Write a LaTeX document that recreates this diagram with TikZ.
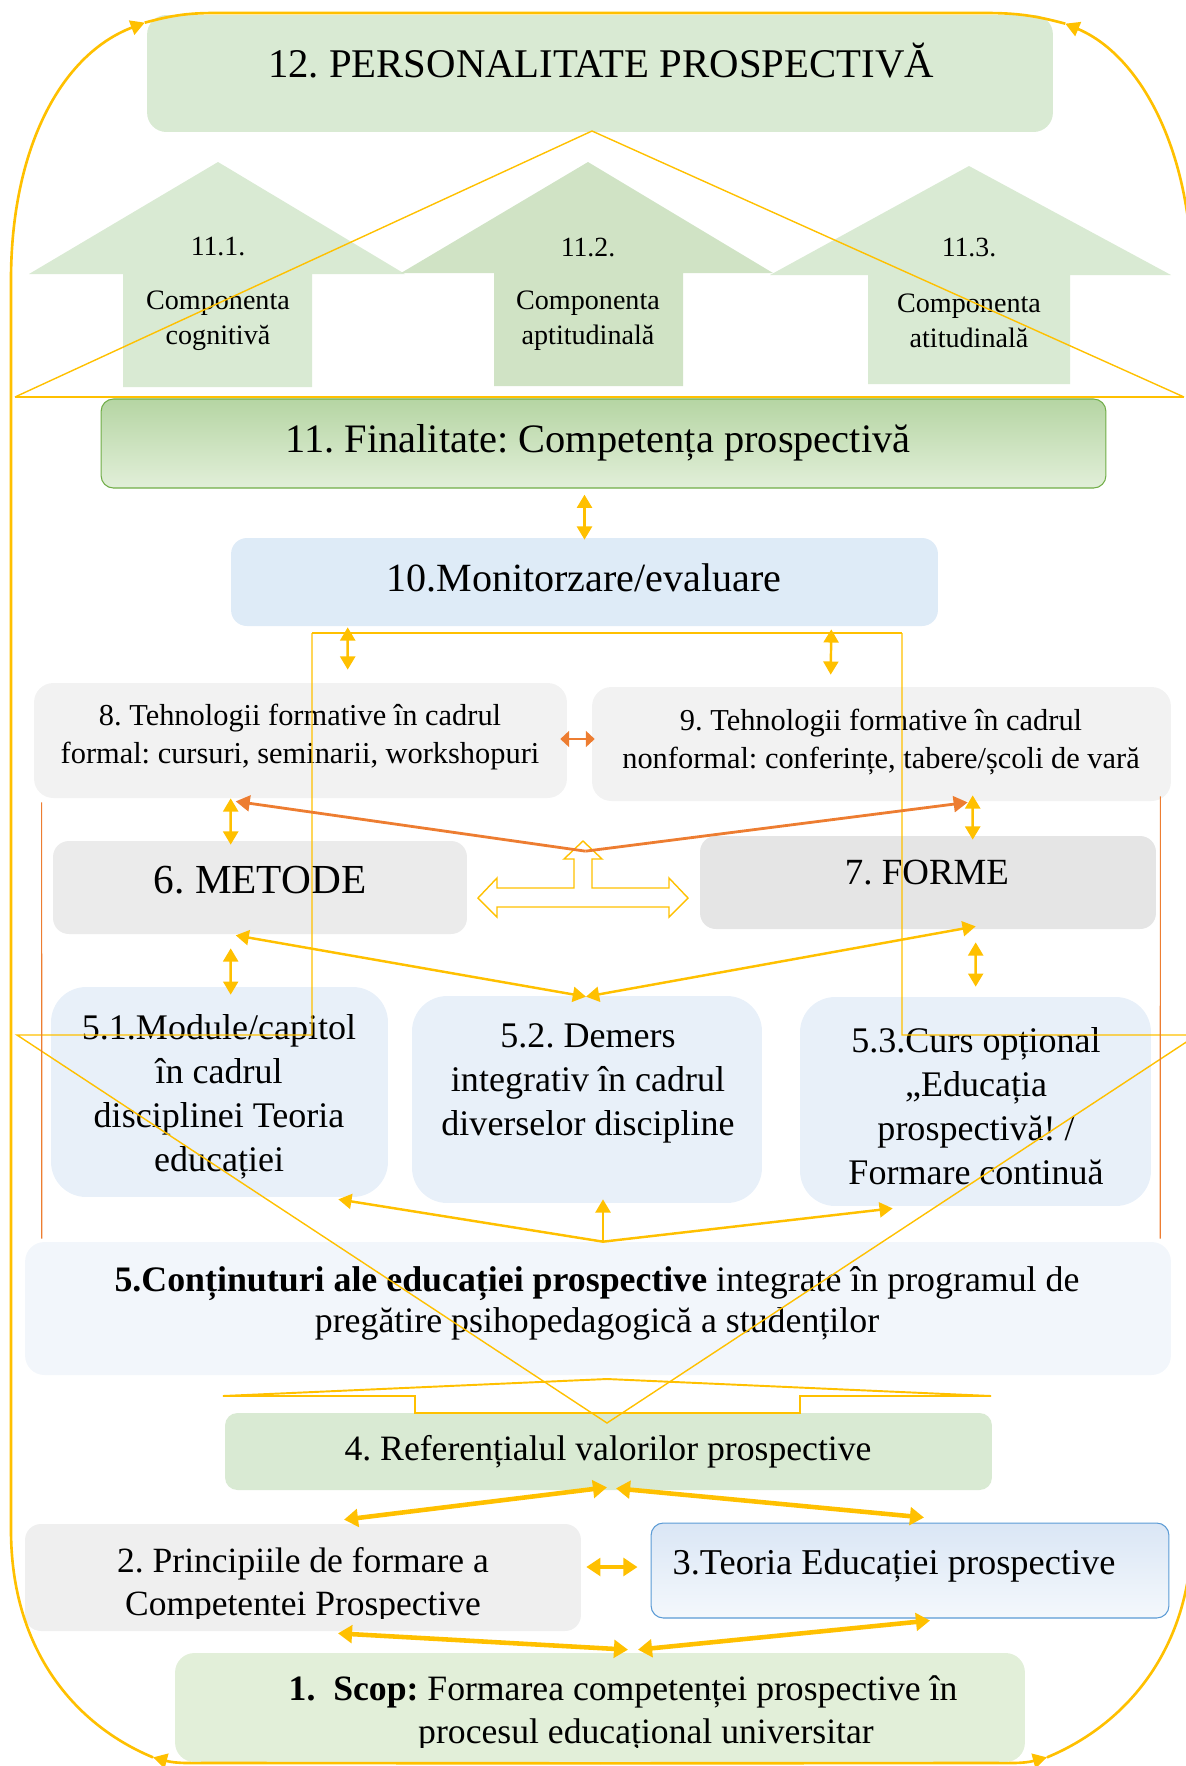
\documentclass[tikz,border=0pt]{standalone}
\usepackage{fontspec}
\setmainfont{Liberation Serif}
\usepackage{tikz}
\usetikzlibrary{arrows.meta, positioning, calc}
\definecolor{FlowGold}{HTML}{FFC000}
\definecolor{FlowOrange}{HTML}{ED7D31}
\definecolor{FlowGreen}{HTML}{D9EAD3}
\definecolor{FlowGreenDark}{HTML}{D0E3C5}
\definecolor{FlowGreenPale}{HTML}{E2EFD9}
\definecolor{FlowGreenTop}{HTML}{B5D5A3}
\definecolor{FlowGreenLine}{HTML}{70AD47}
\definecolor{FlowBlue}{HTML}{DEEBF7}
\definecolor{FlowBlueSoft}{HTML}{E8F0F9}
\definecolor{FlowBlueFaint}{HTML}{F2F6FB}
\definecolor{FlowBlueTop}{HTML}{DAE6F5}
\definecolor{FlowBlueBottom}{HTML}{F4F8FC}
\definecolor{FlowBlueLine}{HTML}{5B9BD5}
\definecolor{FlowGrey}{HTML}{F2F2F2}
\definecolor{FlowGreyMid}{HTML}{EBEBEB}
\definecolor{FlowGreyDark}{HTML}{E5E5E5}
\definecolor{FlowGreyLight}{HTML}{EFEFEF}
\newcommand{\setfs}[2]{\fontsize{#1}{#2}\selectfont}
\frenchspacing
\tikzset{
    % Box styles
    panelbox/.style={
        rectangle,
        rounded corners=#1,
        draw=none,
        inner sep=0pt
    },
    panelbox/.default=10pt,
    boxtext/.style={
        align=center,
        inner sep=0pt
    },
    % Arrow styles
    goldarrow/.style={
        {Triangle[length=7.5pt,width=8.5pt]}-{Triangle[length=7.5pt,width=8.5pt]},
        line width=1.4pt,
        FlowGold
    },
    goldhead/.style={
        -{Triangle[length=7.5pt,width=8.5pt]},
        line width=1.4pt,
        FlowGold
    },
    goldthick/.style={
        {Triangle[length=8pt,width=10pt]}-{Triangle[length=8pt,width=10pt]},
        line width=2.6pt,
        FlowGold
    },
    orangearrow/.style={
        -{Triangle[length=8pt,width=9pt]},
        line width=1.6pt,
        FlowOrange
    },
    % Outline shapes and frame
    goldline/.style={
        draw=FlowGold,
        line width=0.8pt,
        line join=miter
    },
    frameline/.style={
        line width=1.5pt,
        FlowGold
    }
}

\begin{document}
\begin{tikzpicture}[x=0.02cm, y=-0.02cm]
            \useasboundingbox (0,0) rectangle (1186,1766);

            % Top: personality and the three components
            \node[panelbox=11pt, fill=FlowGreen, minimum width=18.12cm, minimum height=2.34cm] (b12) at (600,73.5) {};
            \node[boxtext, font=\setfs{23.2}{28}] (t12) at (601,61) {12. PERSONALITATE PROSPECTIVĂ};

            \fill[FlowGreen] (218,162) -- (405,274) -- (312,274) -- (312,387) -- (123,387) -- (123,274) -- (29,274) -- cycle;
            \fill[FlowGreenDark] (588,162) -- (773,273) -- (683,273) -- (683,386) -- (494,386) -- (494,273) -- (401,273) -- cycle;
            \fill[FlowGreen] (969,166) -- (1171,275) -- (1070,275) -- (1070,384) -- (868,384) -- (868,275) -- (770,275) -- cycle;

            \node[boxtext, font=\setfs{15.8}{20}] (n111) at (218,247) {11.1.};
            \node[boxtext, font=\setfs{16}{20}] (c111) at (218,321) {Componenta\\cognitivă};
            \node[boxtext, font=\setfs{15.8}{20}] (n112) at (588,247) {11.2.};
            \node[boxtext, font=\setfs{16}{20}] (c112) at (588,321) {Componenta\\aptitudinală};
            \node[boxtext, font=\setfs{15.8}{20}] (n113) at (969,247) {11.3.};
            \node[boxtext, font=\setfs{16}{20}] (c113) at (969,321) {Componenta\\atitudinală};

            % Finality and monitoring
            \node[panelbox=7pt, top color=FlowGreenTop, bottom color=FlowGreenPale, draw=FlowGreenLine, line width=0.6pt, minimum width=20.10cm, minimum height=1.78cm] (b11) at (603.5,443.5) {};
            \node[boxtext, font=\setfs{23}{28}] (t11) at (598,443) {11. Finalitate: Competența prospectivă};

            \node[panelbox=9pt, fill=FlowBlue, minimum width=14.14cm, minimum height=1.76cm] (b10) at (584.5,582) {};
            \node[boxtext, font=\setfs{22.8}{28}] (t10) at (584,578) {10.Monitorzare/evaluare};

            % Formative technologies
            \node[panelbox=11pt, fill=FlowGrey, minimum width=10.66cm, minimum height=2.30cm] (b8) at (300.5,740.5) {};
            \node[boxtext, font=\setfs{17.3}{21.6}] (t8) at (300,737) {8. Tehnologii formative în cadrul\\formal: cursuri, seminarii, workshopuri};

            \node[panelbox=11pt, fill=FlowGrey, minimum width=11.58cm, minimum height=2.28cm] (b9) at (881.5,744) {};
            \node[boxtext, font=\setfs{17.3}{21.6}] (t9) at (881,742) {9. Tehnologii formative în cadrul\\nonformal: conferințe, tabere/școli de vară};

            % Methods and forms
            \node[panelbox=9pt, fill=FlowGreyMid, minimum width=8.28cm, minimum height=1.86cm] (b6) at (260,887.5) {};
            \node[boxtext, font=\setfs{23.5}{28}] (t6) at (260,880) {6. METODE};

            \node[panelbox=9pt, fill=FlowGreyDark, minimum width=9.12cm, minimum height=1.86cm] (b7) at (928,882.5) {};
            \node[boxtext, font=\setfs{21}{26}] (t7) at (927,873) {7. FORME};

            % Content modules
            \node[panelbox=20pt, fill=FlowBlueSoft, minimum width=6.74cm, minimum height=4.20cm] (b51) at (219.5,1092) {};
            \node[boxtext, font=\setfs{20.5}{25}] (t51) at (219,1097) {5.1.Module/capitol\\în cadrul\\disciplinei Teoria\\educației};

            \node[panelbox=20pt, fill=FlowBlueSoft, minimum width=7.00cm, minimum height=4.14cm] (b52) at (587,1099.5) {};
            \node[boxtext, font=\setfs{20.5}{25}] (t52) at (588,1083) {5.2. Demers\\integrativ în cadrul\\diverselor discipline};

            \node[panelbox=20pt, fill=FlowBlueSoft, minimum width=7.02cm, minimum height=4.18cm] (b53) at (975.5,1101.5) {};
            \node[boxtext, font=\setfs{20.5}{25}] (t53) at (976,1106) {5.3.Curs opțional\\„Educația\\prospectivă! /\\Formare continuă};

            \node[panelbox=11pt, fill=FlowBlueFaint, minimum width=22.92cm, minimum height=2.66cm] (b5) at (598,1308.5) {};
            \node[boxtext, font=\setfs{20.4}{23.3}] (t5) at (597,1303) {\textbf{5.Conținuturi ale educației prospective} integrate în programul de\\pregătire psihopedagogică a studenților};

            % Values, principles, theory
            \node[panelbox=7pt, fill=FlowGreen, minimum width=15.34cm, minimum height=1.54cm] (b4) at (608.5,1451.5) {};
            \node[boxtext, font=\setfs{20.3}{24}] (t4) at (608,1452) {4. Referențialul valorilor prospective};

            \node[panelbox=9pt, fill=FlowGreyLight, minimum width=11.12cm, minimum height=2.14cm] (b2) at (303,1577.5) {};
            \begin{scope}
                \clip (25,1524) rectangle (581,1618);
                \node[boxtext, font=\setfs{20.2}{24.5}] (t2) at (303,1585) {2. Principiile de formare a\\Competentei Prospective};
            \end{scope}

            \node[panelbox=7pt, top color=FlowBlueTop, bottom color=FlowBlueBottom, draw=FlowBlueLine, line width=0.6pt, minimum width=10.36cm, minimum height=1.90cm] (b3) at (910,1570.5) {};
            \node[boxtext, font=\setfs{20.7}{25}] (t3) at (894,1566) {3.Teoria Educației prospective};

            % Aim
            \node[panelbox=11pt, fill=FlowGreenPale, minimum width=17.00cm, minimum height=2.18cm] (b1) at (600,1707.5) {};
            \begin{scope}
                \clip (175,1653) rectangle (1025,1747);
                \node[boxtext, font=\setfs{20.3}{25}] (t1a) at (623,1692) {\textbf{1.\ \ Scop:} Formarea competenței prospective în};
                \node[boxtext, font=\setfs{20.3}{25}] (t1b) at (646,1735) {procesul educațional universitar};
            \end{scope}

            % Outline arrows behind the flow
            \draw[goldline] (592,131) -- (15,397);
            \draw[goldline] (592,131) -- (1184,397);
            \draw[goldline, line width=1.4pt] (15,397) -- (1184,397);

            \draw[goldline] (312,633) -- (312,1035) -- (17,1035) -- (607,1423) -- (1197,1035) -- (902,1035) -- (902,633);
            \draw[goldline, line width=1.4pt] (312,633) -- (902,633);

            \draw[goldline, line width=1.1pt] (607,1379) -- (991,1396) -- (800,1396) -- (800,1413) -- (415,1413) -- (415,1396) -- (223,1396) -- cycle;

            \draw[goldline] (478,898) -- (497,878) -- (497,888) -- (574,888) -- (574,859) -- (564,859) -- (583,841)
                -- (602,859) -- (592,859) -- (592,888) -- (669,888) -- (669,878) -- (688,898) -- (669,917)
                -- (669,907) -- (497,907) -- (497,917) -- cycle;

            % Side lines
            \draw[FlowOrange, line width=0.6pt] ($(b8.south west)+(8,4)$) -- ($(b5.north west)+(17,-3)$);
            \draw[FlowOrange, line width=0.6pt] ($(b9.south east)+(-11,-5)$) -- ($(b5.north east)+(-11,-3)$);

            % Connectors
            \draw[goldarrow] ($(b10.north)+(0,-43)$) -- ($(b10.north)+(0,2)$);
            \draw[goldarrow] ($(b10.south west)+(117,1)$) -- ($(b8.north west)+(314,-13)$);
            \draw[goldarrow] ($(b10.south east)+(-107,3)$) -- ($(b9.north west)+(239,-12)$);
            \draw[{Triangle[length=5pt,width=9pt]}-{Triangle[length=5pt,width=9pt]}, line width=1.6pt, FlowOrange] ($(b8.east)+(-7,-1.5)$) -- ($(b9.west)+(3,-5)$);
            \draw[goldarrow] ($(b8.south west)+(197,0)$) -- ($(b6.north west)+(178,4)$);
            \draw[goldarrow] ($(b9.south west)+(381,-6)$) -- ($(b7.north west)+(273,4)$);

            \coordinate (hubTop) at ($(b6.north east)!0.5!(b7.north west)+(2,13)$);
            \draw[orangearrow] (hubTop) -- ($(b8.south west)+(202,3)$);
            \draw[orangearrow] (hubTop) -- ($(b9.south west)+(376,1)$);

            \draw[goldarrow] ($(b6.south west)+(178,14)$) -- ($(b51.north west)+(180,8)$);
            \draw[goldarrow] ($(b7.south west)+(276,13)$) -- ($(b53.north west)+(176,-10)$);

            \draw[goldarrow] ($(b52.north)+(-1,1)$) -- ($(b6.south west)+(183,1)$);
            \draw[goldarrow] ($(b52.north)+(-1,1)$) -- ($(b7.south west)+(276,-3)$);

            \coordinate (hubMid) at ($(b5.north)+(5,0)$);
            \draw[goldhead] (hubMid) -- ($(b51.south east)+(-50,2)$);
            \draw[goldhead] (hubMid) -- ($(b53.south west)+(93,2)$);
            \draw[goldhead] (hubMid) -- ($(b52.south)+(16,-4)$);

            \draw[goldthick] ($(b4.south)+(-1.5,-3)$) -- ($(b2.north)+(41,-4)$);
            \draw[goldthick] ($(b4.south)+(7.5,-2)$) -- ($(b3.north)+(14,-5)$);
            \draw[goldthick] ($(b2.east)+(5,-10.5)$) -- ($(b3.west)+(-13,-3.5)$);
            \draw[goldthick] ($(b1.north)+(28,-3)$) -- ($(b2.south)+(35,2)$);
            \draw[goldthick] ($(b1.north)+(38,-3)$) -- ($(b3.south)+(20,2)$);

            % Frame from the aim back up to the personality
            \coordinate (botL) at ($(b1.south)+(-447,-5)$);
            \coordinate (botR) at ($(b1.south)+(447,-5)$);
            \coordinate (topL) at ($(b12.north west)+(-2,8)$);
            \coordinate (topR) at ($(b12.north east)+(12,9)$);
            \draw[frameline, -{Triangle[length=8pt,width=8.5pt]}] ($(b1.south)+(0,1)$) -- (215,1763) to[out=180,in=-15] (botL);
            \draw[frameline, -{Triangle[length=8pt,width=8.5pt]}] ($(b1.south)+(0,1)$) -- (985,1763) to[out=0,in=195] (botR);
            \draw[frameline, -{Triangle[length=8pt,width=8.5pt]}] (botL) .. controls (75,1725) and (11,1650) .. (11,1530)
                -- (11,280) .. controls (11,150) and (60,55) .. (topL);
            \draw[frameline, -{Triangle[length=8pt,width=8.5pt]}] (botR) .. controls (1125,1725) and (1192,1650) .. (1192,1530)
                -- (1192,280) .. controls (1192,150) and (1140,55) .. (topR);
            \draw[frameline] (topL) to[out=15,in=180] (215,13) -- (985,13) to[out=0,in=165] (topR);
\end{tikzpicture}
\end{document}
